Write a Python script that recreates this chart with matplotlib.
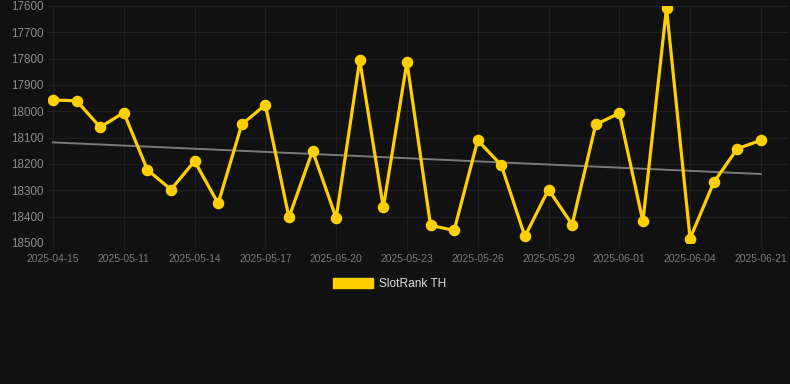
import matplotlib
matplotlib.use("Agg")
import matplotlib.pyplot as plt
from matplotlib.patches import Patch
import numpy as np

plt.rcParams['font.family'] = ['Liberation Sans', 'DejaVu Sans']

# tick labels shown on the category axis (every 3rd point)
tick_labels = ["2025-04-15", "2025-05-11", "2025-05-14", "2025-05-17", "2025-05-20",
               "2025-05-23", "2025-05-26", "2025-05-29", "2025-06-01", "2025-06-04",
               "2025-06-21"]

# rank values
rank = [17957, 17960, 18060, 18005, 18222, 18297, 18189, 18350, 18050, 17975,
        18403, 18150, 18405, 17805, 18365, 17813, 18433, 18452, 18110, 18205,
        18475, 18297, 18430, 18050, 18007, 18418, 17608, 18483, 18270, 18142,
        18110]

# trend line end values
trend = [18118, 18238]

bg = "#111111"
gold = "#FFD000"

fig = plt.figure(figsize=(7.9, 3.84), dpi=100, facecolor=bg)
ax = fig.add_axes([0.0608, 0.3672, 0.9367, 0.6172], facecolor=bg)

x = np.arange(len(rank))
ax.plot([x[0], x[-1]], trend, color="#7a7a7a", lw=1.4, zorder=2)
ax.plot(x, rank, color=gold, lw=2.3, marker="o", ms=7.3, solid_joinstyle="miter",
        zorder=3)

ax.set_ylim(18500, 17600)
ax.set_yticks(np.arange(17600, 18501, 100))
ax.set_xlim(-0.21, 31.15)
ax.set_xticks(x[::3])
ax.set_xticklabels(tick_labels)

ax.grid(True, color="#1f1f1f", lw=0.8, zorder=0)
for s in ax.spines.values():
    s.set_visible(False)
ax.tick_params(axis="y", length=0, colors="#8a8a8a", labelsize=8.4, pad=3)
ax.tick_params(axis="x", length=4, color="#1c1c1c", labelcolor="#7a7a7a", labelsize=7.4, pad=4)

# legend handle drawn as a filled box like the original
leg = fig.legend(handles=[Patch(facecolor=gold, edgecolor=gold, label="SlotRank TH")],
                 loc="center", bbox_to_anchor=(389.5 / 790, 1 - 284 / 384), frameon=False,
                 handlelength=3.4, handleheight=0.9, fontsize=8.6, handletextpad=0.5)
for t in leg.get_texts():
    t.set_color("#dddddd")

fig.savefig("out.png", dpi=100, facecolor=bg)
